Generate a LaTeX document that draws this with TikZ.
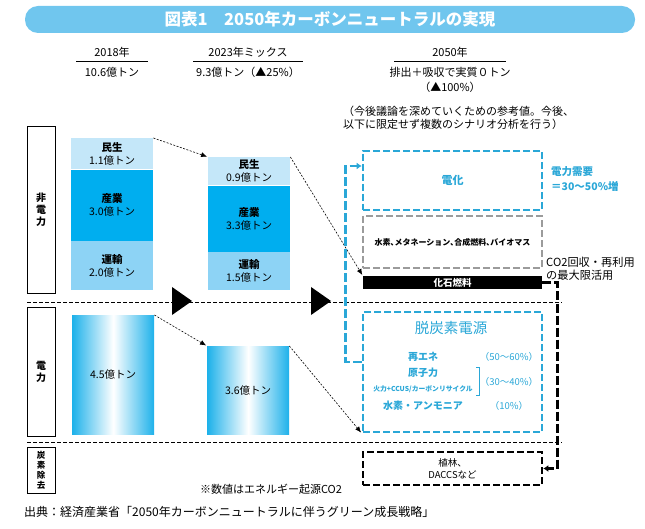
\documentclass[tikz,border=0pt]{standalone}
\usepackage{fontspec}
\setmainfont{Noto Sans CJK JP}
\usetikzlibrary{arrows.meta,positioning,calc}
\definecolor{TitleBlue}{HTML}{70C6EE}
\definecolor{Cyan}{HTML}{2AA7D7}
\definecolor{MinseiSoft}{HTML}{C4E7F9}
\definecolor{Sangyo}{HTML}{00AEEF}
\definecolor{Unyu}{HTML}{8DD3F5}
\definecolor{Grad}{HTML}{1DB1EA}
\definecolor{Gray}{HTML}{9B9B9B}

\begin{document}
\begin{tikzpicture}[x=1pt,y=-1pt,>=Latex]
\tikzset{stackbox/.style={anchor=north west,minimum width=82pt,inner sep=0pt,align=center,font=\fontsize{10.5}{13}\selectfont,text=black},
 sidebox/.style={draw,line width=0.8pt,minimum width=28pt,inner sep=0pt,align=center,font=\bfseries\fontsize{10}{12}\selectfont},
 headtxt/.style={align=center,font=\fontsize{11}{15}\selectfont},
 scenbox/.style={minimum width=179pt,inner sep=0pt,align=center,line width=2.6pt,dash pattern=on 7pt off 3pt},
 flowarrow/.style={line width=0.6pt,dash pattern=on 2pt off 1.5pt,shorten >=1pt,-{Latex[length=6pt,width=5pt]}},
 cyanlink/.style={draw=Cyan,line width=2.6pt,dash pattern=on 9pt off 3pt,-{Latex[length=5pt,width=7pt]}},
 blacklink/.style={line width=2.6pt,dash pattern=on 9pt off 3pt,-{Latex[length=5pt,width=7pt]}},
 cyantxt/.style={text=Cyan,font=\bfseries\fontsize{10}{13}\selectfont,inner sep=0pt},
 pcttxt/.style={text=Cyan,font=\fontsize{9.5}{12}\selectfont,inner sep=0pt}}
\useasboundingbox (0,0) rectangle (645,529);
% title
\node[fill=TitleBlue,rounded corners=13pt,minimum width=610pt,minimum height=27pt,text=white,font=\bfseries\fontsize{16.5}{16.5}\selectfont] (title) at (330,19.5) {図表1　2050年カーボンニュートラルの実現};
% column heads
\node[headtxt] (h18) at (112,52) {2018年};
\node[headtxt] (v18) at (112,72) {10.6億トン};
\draw[line width=0.8pt] (76,61) -- (148,61);
\node[headtxt] (h23) at (248,52) {2023年ミックス};
\node[headtxt] (v23) at (248,72) {9.3億トン（▲25\%）};
\draw[line width=0.8pt] (193,61) -- (303,61);
\node[headtxt] (h50) at (450,52) {2050年};
\node[headtxt] (v50) at (450,79.5) {排出＋吸収で実質０トン\\（▲100\%）};
\draw[line width=0.8pt] (394,61) -- (506,61);
\node[anchor=west,align=left,inner sep=0pt,font=\fontsize{11}{12.5}\selectfont] (note) at (343,118) {（今後議論を深めていくための参考値。今後、\\以下に限定せず複数のシナリオ分析を行う）};
% row labels
\node[sidebox,minimum height=167pt] (rnon) at (41,209.5) {非\\電\\力};
\node[sidebox,minimum height=129pt] (rele) at (41,371.5) {電\\力};
\node[sidebox,minimum height=46pt,font=\bfseries\fontsize{8.5}{10}\selectfont] (rcar) at (41,470) {炭\\素\\除\\去};
% separators
\draw[line width=0.6pt,dash pattern=on 4pt off 2pt] (27,302) -- (562,302);
\draw[line width=0.6pt,dash pattern=on 4pt off 2pt] (27,442) -- (562,442);
% 2018 stack
\node[stackbox,fill=MinseiSoft,minimum height=31pt] (m18) at (71,138) {\textbf{民生}\\1.1億トン};
\node[stackbox,fill=Sangyo,minimum height=71pt] (s18) at (m18.south west) {\textbf{産業}\\3.0億トン};
\node[stackbox,fill=Unyu,minimum height=49pt] (u18) at (s18.south west) {\textbf{運輸}\\2.0億トン};
\node[stackbox,minimum height=119pt,left color=Grad,right color=Grad,middle color=white] (e18) at (72,315) {4.5億トン};
% 2023 stack
\node[stackbox,fill=MinseiSoft,minimum height=28pt] (m23) at (208,157) {\textbf{民生}\\0.9億トン};
\node[stackbox,fill=Sangyo,minimum height=66pt] (s23) at (m23.south west) {\textbf{産業}\\3.3億トン};
\node[stackbox,fill=Unyu,minimum height=38pt] (u23) at (s23.south west) {\textbf{運輸}\\1.5億トン};
\node[stackbox,minimum height=88pt,left color=Grad,right color=Grad,middle color=white] (e23) at (207,346) {3.6億トン};
% big arrows
\fill (172,287) -- (192,301) -- (172,315) -- cycle;
\fill (311,287) -- (331,301) -- (311,315) -- cycle;
% 2050 scenario
\node[scenbox,draw=Cyan,minimum height=59pt,text=Cyan,font=\bfseries\fontsize{11}{12}\selectfont] (elec) at (452.5,180.5) {電化};
\node[scenbox,draw=Gray,line width=2.2pt,minimum height=52pt,font=\bfseries\fontsize{8}{10}\selectfont] (bio) at (452.5,242) {水素､メタネーション､合成燃料､バイオマス};
\node[minimum width=179pt,minimum height=13pt,inner sep=0pt,fill=black,text=white,font=\bfseries\fontsize{9.5}{10}\selectfont] (fossil) at (452.5,282.5) {化石燃料};
\node[scenbox,draw=Cyan,minimum height=120pt] (dec) at (452.5,372) {};
\node[scenbox,draw=black,minimum height=33pt,font=\fontsize{9.5}{12}\selectfont] (dac) at (452.5,468.5) {植林、\\DACCSなど};
\node[text=Cyan,font=\fontsize{14.5}{14.5}\selectfont] (dectitle) at (451,328) {脱炭素電源};
\node[cyantxt] (re) at (423,357) {再エネ};
\node[pcttxt] (rept) at (509,357) {（50～60\%）};
\node[cyantxt] (nuc) at (423,373) {原子力};
\node[cyantxt,font=\bfseries\fontsize{6.8}{8}\selectfont] (ccus) at (423,389) {火力+CCUS/カーボンリサイクル};
\node[pcttxt] (nupt) at (509,382) {（30～40\%）};
\node[cyantxt] (hyd) at (423,406) {水素・アンモニア};
\node[pcttxt] (hypt) at (509,406) {（10\%）};
\draw[Cyan,line width=0.7pt] (476,367) -- (479,367) -- (479,395) -- (476,395);
% side notes
\node[anchor=west,align=left,inner sep=0pt,text=Cyan,font=\bfseries\fontsize{10.5}{15}\selectfont] (demand) at (551,179.5) {電力需要\\＝30～50\%増};
\node[anchor=west,align=left,inner sep=0pt,font=\fontsize{11.2}{13}\selectfont] (ccu) at (546,268.5) {CO2回収・再利用\\の最大限活用};
% flows
\draw[flowarrow] (m18.north east) -- (m23.north west);
\draw[flowarrow] (m23.north east) -- (fossil.north west);
\draw[flowarrow] (e18.north east) -- (e23.north west);
\draw[flowarrow] (e23.north east) -- (dec.south west);
\draw[cyanlink] ([yshift=10pt]dec.west) -- ++(-16,0) |- ([yshift=14.5pt]elec.west);
\draw[blacklink] (fossil.east) -- ++(15,0) |- (dac.east);
% footer
\node[font=\fontsize{11}{12}\selectfont] (unit) at (271,489) {※数値はエネルギー起源CO2};
\node[anchor=west,inner sep=0pt,font=\fontsize{12}{13}\selectfont] (src) at (24,512) {出典：経済産業省「2050年カーボンニュートラルに伴うグリーン成長戦略」};
\end{tikzpicture}
\end{document}
